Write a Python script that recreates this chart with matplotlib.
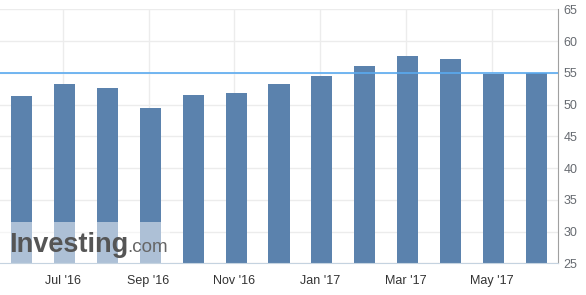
import matplotlib.pyplot as plt
from matplotlib.patches import Rectangle
from matplotlib.transforms import offset_copy

# ---- data ----
months = ["May '16", "Jun '16", "Jul '16", "Aug '16", "Sep '16", "Oct '16", "Nov '16",
          "Dec '16", "Jan '17", "Feb '17", "Mar '17", "Apr '17", "May '17"]
values = [51.3, 53.2, 52.6, 49.4, 51.5, 51.9, 53.2, 54.5, 56.0, 57.7, 57.2, 54.8, 54.9]
tick_idx = [1, 3, 5, 7, 9, 11]
tick_labels = ["Jul '16", "Sep '16", "Nov '16", "Jan '17", "Mar '17", "May '17"]
ref_level = 55.0
y_ticks = [25, 30, 35, 40, 45, 50, 55, 60, 65]

BAR = "#5b82ad"
plt.rcParams["font.family"] = ["Liberation Sans", "DejaVu Sans"]

fig = plt.figure(figsize=(5.86, 2.95), dpi=100)
ax = fig.add_axes([0.0, 0.1068, 558 / 586, 0.8617])

x = list(range(len(values)))
ax.bar(x, values, width=0.49, color=BAR, zorder=2)
ax.axhline(ref_level, color="#5aaaf0", lw=1.2, zorder=3)

ax.set_xlim(-0.5, len(values) - 0.5)
ax.set_ylim(25, 65)
ax.set_yticks(y_ticks)
ax.set_xticks([i - 0.04 for i in tick_idx])
ax.set_xticklabels(tick_labels)

ax.yaxis.tick_right()
ax.tick_params(axis="y", length=0, pad=4, labelsize=9, labelcolor="#666a70")
ax.tick_params(axis="x", length=0, pad=8.5, labelsize=9, labelcolor="#333333")
ax.grid(True, color="#ececec", lw=1, zorder=0)

for s in ["top", "left"]:
    ax.spines[s].set_visible(False)
ax.spines["right"].set_color("#a0a0a0")
ax.spines["bottom"].set_color("#c5d3e0")

# watermark
ax.add_patch(Rectangle((0, 0), 170 / 558, 41 / 254.2, transform=ax.transAxes,
                       facecolor="white", alpha=0.5, edgecolor="none", zorder=4))
t1 = ax.text(9 / 558, 11 / 254.2, "Investing", transform=ax.transAxes, fontsize=19.5,
             fontweight="bold", color="#555555", zorder=5, va="baseline")
fig.canvas.draw()
w = t1.get_window_extent().width
ax.text(9 / 558, 11 / 254.2, ".com", zorder=5, va="baseline", fontsize=13.5, color="#666666",
        transform=offset_copy(ax.transAxes, fig=fig, x=w - 1, y=0, units="dots"))

fig.savefig("out.png", dpi=100)
